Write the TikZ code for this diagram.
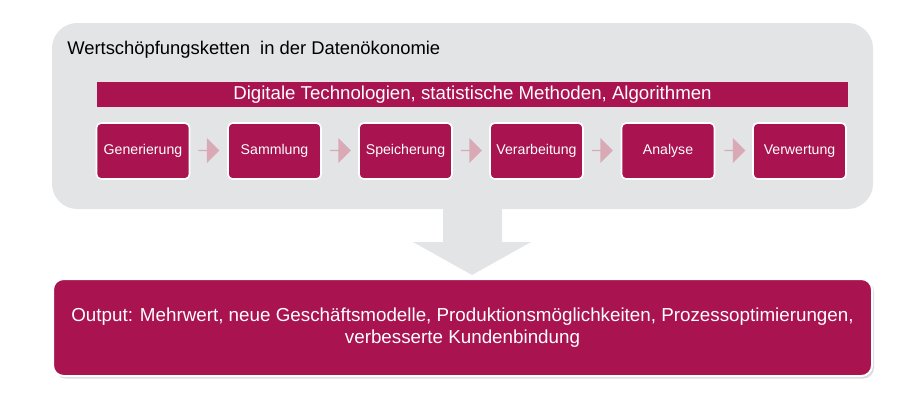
\documentclass[tikz,border=0pt]{standalone}
\usepackage{fontspec}
\setmainfont{Liberation Sans}
\usetikzlibrary{shapes.arrows}
\definecolor{wine}{RGB}{168,19,80}
\definecolor{panel}{RGB}{227,228,230}
\definecolor{pinkarrow}{RGB}{217,170,182}
\tikzset{
  stepbox/.style={draw=white, line width=1.2pt, fill=wine, rounded corners=3.5pt, minimum width=69.75pt, minimum height=42pt, inner sep=0pt, text=white, font=\fontsize{10.6}{12}\selectfont},
  steparrow/.style={single arrow, fill=pinkarrow, draw=none, inner sep=0pt, minimum width=18.75pt, minimum height=15.75pt, single arrow head extend=4.1pt, single arrow head indent=0pt}
}
\begin{document}
\begin{tikzpicture}[x=0.75pt,y=0.75pt,yscale=-1,xscale=1]
\useasboundingbox (0,0) rectangle (905,407);

% Panel
\fill [panel, rounded corners=19pt] (52,23) rectangle (873,209);
% Big Arrow
\fill [panel] (443,205) -- (502,205) -- (502,242) -- (531,242) -- (472,275) -- (413,242) -- (443,242) -- cycle;

% Text Node
\node (title) at (67,50) [anchor=west, inner sep=0pt, font=\fontsize{13.8}{16}\selectfont] {Wertschöpfungsketten\ \ in der Datenökonomie};
% Banner
\node (banner) at (472.5,94.5) [fill=wine, text=white, minimum width=563.25pt, minimum height=18.75pt, inner sep=0pt, font=\fontsize{14}{16}\selectfont] {Digitale Technologien, statistische Methoden, Algorithmen};

% Step boxes
\node (gen) at (143,151) [stepbox] {Generierung};
\node (sam) at (274.5,151) [stepbox] {Sammlung};
\node (spe) at (405.5,151) [stepbox] {Speicherung};
\node (ver) at (536.5,151) [stepbox] {Verarbeitung};
\node (ana) at (668,151) [stepbox] {Analyse};
\node (vwt) at (799.5,151) [stepbox] {Verwertung};

% Step arrows
\node (a1) at (208.5,150.5) [steparrow] {};
\node (a2) at (340,150.5) [steparrow] {};
\node (a3) at (471,150.5) [steparrow] {};
\node (a4) at (602,150.5) [steparrow] {};
\node (a5) at (734.5,150.5) [steparrow] {};

% Output box
\fill [black!14, rounded corners=8pt] (55,281) rectangle (874,378.5);
\draw [fill=wine, draw=white, line width=1.5pt, rounded corners=8pt] (53,279) rectangle (872,376);
% Text Node
\node (output) at (462.5,328) [text=white, align=center, inner sep=0pt, font=\fontsize{14.1}{16.5}\selectfont] {Output: Mehrwert, neue Geschäftsmodelle, Produktionsmöglichkeiten, Prozessoptimierungen,\\verbesserte Kundenbindung};

\end{tikzpicture}
\end{document}
